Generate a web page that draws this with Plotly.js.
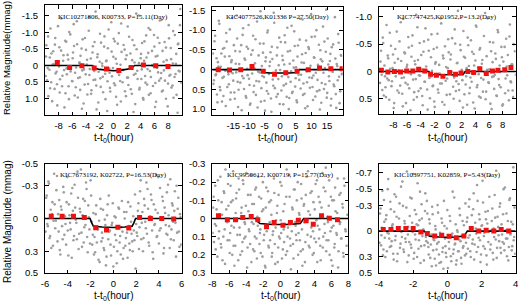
<!DOCTYPE html>
<html>
<head>
<meta charset="utf-8">
<script src="https://cdn.plot.ly/plotly-3.0.1.min.js"></script>
<style>html,body{margin:0;padding:0;background:#fff;}#plot{width:520px;height:303px;}</style>
</head>
<body>
<div id="plot"></div>
<script>
// ---------- panel labels ----------
const panelLabels = [
  "KIC10271806, K00733, P=15.11(Day)",
  "KIC4077526,K01336 P=27.50(Day)",
  "KIC7747425,K01952,P=13.2(Day)",
  "KIC7673192, K02722, P=16.53(Day)",
  "KIC9950612, K00719, P=15.77(Day)",
  "KIC10397751, K02859, P=5.43(Day)"
];
const yTitleTop = "Relative Magnitude(mmag)";
const yTitleBottom = "Relative Magnitude (mmag)";
const xTitle = "t-t<sub>0</sub>(hour)";

// ---------- tick values ----------
const xt1 = [-8,-6,-4,-2,0,2,4,6,8];
const xt2 = [-15,-10,-5,0,5,10,15];
const xt3 = [-8,-6,-4,-2,0,2,4,6,8];
const xt4 = [-6,-4,-2,0,2,4,6];
const xt5 = [-8,-6,-4,-2,0,2,4,6,8];
const xt6 = [-4,-2,0,2,4];
const yt1 = [-1.5,-1.0,-0.5,0,0.5,1.0];
const yl1 = ["-1.5","-1.0","-0.5","0","0.5","1.0"];
const yt2 = [-1.5,-1.0,-0.5,0,0.5,1.0];
const yl2 = ["-1.5","-1.0","-0.5","0","0.5","1.0"];
const yt3 = [-1.0,-0.5,0,0.5];
const yl3 = ["-1.0","-0.5","0","0.5"];
const yt4 = [-0.5,-0.3,0,0.3,0.5];
const yl4 = ["-0.5","-0.3","0","0.3","0.5"];
const yt5 = [-0.3,-0.2,-0.1,0,0.1,0.2,0.3];
const yl5 = ["-0.3","-0.2","-0.1","0","0.1","0.2","0.3"];
const yt6 = [-0.7,-0.5,-0.3,0,0.3,0.5];
const yl6 = ["-0.7","-0.5","-0.3","0","0.3","0.5"];

// ---------- binned points (red) ----------
const b1x = [-8.2,-6.4,-4.6,-2.8,-1.0,0.8,2.6,4.4,6.2,8.0];
const b1y = [-0.09,0.06,0.01,0.08,0.11,0.15,0.06,-0.01,0.01,0.03];
const b2x = [-19.8,-16.2,-12.6,-9.0,-5.4,-1.8,1.8,5.4,9.0,12.6,16.2,19.8];
const b2y = [0.0,0.01,0.0,-0.08,0.04,0.12,0.08,0.04,0.0,-0.04,-0.02,-0.02];
const b3x = [-9.75,-8.8,-7.85,-6.95,-6.05,-5.15,-4.3,-3.4,-2.55,-1.7,-0.75,0.25,1.1,1.9,2.9,3.75,4.65,5.6,6.5,7.3,8.3,9.2];
const b3y = [-0.02,0.01,0.0,0.01,-0.01,-0.01,-0.04,-0.01,0.05,0.07,0.09,0.02,0.05,0.03,0.0,0.02,-0.05,0.04,-0.01,-0.02,-0.03,-0.07];
const b4x = [-5.45,-4.5,-3.5,-2.55,-1.55,-0.6,0.4,1.35,2.3,3.25,4.25,5.3];
const b4y = [-0.02,-0.02,-0.02,-0.01,0.085,0.105,0.08,0.087,-0.01,0.0,0.0,0.005];
const b5x = [-7.27,-6.23,-5.27,-4.42,-3.42,-2.65,-1.62,-0.73,0.31,1.19,2.12,3.04,3.88,4.85,5.77,6.73];
const b5y = [-0.015,0.007,0.007,-0.006,-0.011,0.007,0.046,0.022,0.037,0.022,0.009,0.013,0.031,-0.015,-0.002,0.007];
const b6x = [-3.75,-3.3,-2.87,-2.43,-2.0,-1.55,-1.17,-0.74,-0.33,0.1,0.52,0.97,1.4,1.84,2.27,2.72,3.15,3.59];
const b6y = [-0.02,-0.02,-0.03,-0.03,-0.03,0.01,0.03,0.06,0.05,0.063,0.08,0.06,-0.03,0.0,-0.01,0.0,-0.02,0.0];

// ---------- transit model (black) ----------
const m1x = [-10,-3.1,-2.9,-2.6,-2.0,-1.0,0,1.0,2.0,2.6,2.9,3.1,10];
const m1y = [0,0,0.04,0.09,0.12,0.15,0.16,0.15,0.12,0.09,0.04,0,0];
const m2x = [-22,-6.2,-5.8,-5.3,-3,0,3,5.3,5.8,6.2,20];
const m2y = [0,0,0.04,0.075,0.085,0.09,0.085,0.075,0.04,0,0];
const m3x = [-10,-2.8,-2.65,-2.5,-1,0,1,2.2,2.35,2.5,10];
const m3y = [0,0,0.03,0.055,0.06,0.062,0.06,0.055,0.03,0,0];
const m4x = [-6,-2.05,-1.9,-1.75,-1,0,1,1.65,1.8,1.95,6];
const m4y = [0,0,0.04,0.07,0.078,0.082,0.078,0.07,0.04,0,0];
const m5x = [-8,-2.9,-2.7,-2.4,-1,0,1,2.35,2.55,2.75,8];
const m5y = [0,0,0.015,0.028,0.033,0.035,0.033,0.028,0.015,0,0];
const m6x = [-4,-1.35,-1.2,-1.05,-0.5,0,0.5,0.97,1.07,1.17,4];
const m6y = [0,0,0.03,0.06,0.07,0.075,0.07,0.06,0.03,0,0];

// ---------- raw photometry (gray, estimated sample of the cloud) ----------
const r1x = [-9.9,-9.8,-9.6,-9.5,-9.3,-9.2,-9.1,-8.9,-8.8,-8.6,-8.5,-8.3,-8.2,-8.0,-7.9,-7.8,-7.6,-7.5,-7.3,-7.2,-7.0,-6.9,-6.8,-6.6,-6.5,-6.3,-6.2,-6.0,-5.9,-5.8,-5.6,-5.5,-5.3,-5.2,-5.0,-4.9,-4.8,-4.6,-4.5,-4.3,-4.2,-4.0,-3.9,-3.8,-3.6,-3.5,-3.3,-3.2,-3.0,-2.9,-2.8,-2.6,-2.5,-2.3,-2.2,-2.0,-1.9,-1.8,-1.6,-1.5,-1.3,-1.2,-1.0,-0.9,-0.8,-0.6,-0.5,-0.3,-0.2,0.0,0.1,0.2,0.4,0.5,0.7,0.8,1.0,1.1,1.2,1.4,1.5,1.7,1.8,2.0,2.1,2.2,2.4,2.5,2.7,2.8,3.0,3.1,3.2,3.4,3.5,3.7,3.8,4.0,4.1,4.2,4.4,4.5,4.7,4.8,5.0,5.1,5.2,5.4,5.5,5.7,5.8,6.0,6.1,6.2,6.4,6.5,6.7,6.8,7.0,7.1,7.2,7.4,7.5,7.7,7.8,8.0,8.1,8.2,8.4,8.5,8.7,8.8,9.0,9.1,9.2,9.4,9.5,9.7,9.8];
const r1y = [0.32,-0.61,0.08,0.93,-0.24,-1.12,0.51,-0.02,-0.43,0.71,-0.83,0.19,1.21,-0.12,-0.55,0.42,-1.42,0.63,-0.31,0.14,0.84,-0.72,0.27,-0.18,1.02,-0.94,0.05,0.48,-0.39,-1.25,0.22,0.66,-0.64,0.97,-0.08,0.36,-0.29,1.31,-0.79,0.12,0.58,-0.47,-0.03,0.88,-1.05,0.29,-0.21,0.75,-0.58,0.44,0.17,-1.63,0.61,-0.34,1.12,-0.11,0.39,-0.69,0.02,0.81,-0.88,0.25,-0.15,1.38,-0.52,0.09,0.68,-1.31,0.33,-0.26,0.54,-0.73,0.95,-0.05,0.21,-0.98,0.47,1.09,-0.41,0.13,-0.62,0.78,-0.19,0.37,-1.18,0.59,0.04,-0.36,0.86,-0.77,0.28,-0.09,1.17,-0.49,0.16,-1.51,0.73,-0.22,0.41,-0.68,1.04,-0.14,0.52,-0.91,0.11,-0.38,0.89,-1.08,0.35,-0.01,0.62,-0.57,1.26,-0.27,0.07,-0.84,0.46,-1.36,0.23,0.79,-0.44,0.15,-0.71,1.01,-0.16,0.55,-1.22,0.31,-0.53,0.67,-0.06,0.98,-0.92,0.26,-0.35,1.43,-0.66,0.18,-1.71,0.49];
const s1x = [-9.85,-9.7,-9.55,-9.35,-9.25,-9.05,-8.95,-8.75,-8.55,-8.45,-8.25,-8.1,-7.95,-7.85,-7.65,-7.45,-7.35,-7.15,-7.05,-6.85,-6.7,-6.55,-6.45,-6.25,-6.05,-5.95,-5.75,-5.65,-5.45,-5.35,-5.15,-4.95,-4.85,-4.65,-4.55,-4.35,-4.15,-4.05,-3.85,-3.7,-3.55,-3.45,-3.25,-3.05,-2.95,-2.75,-2.65,-2.45,-2.35,-2.15,-1.95,-1.85,-1.65,-1.55,-1.35,-1.15,-1.05,-0.85,-0.7,-0.55,-0.45,-0.25,-0.05,0.05,0.25,0.35,0.55,0.65,0.85,1.05,1.15,1.35,1.45,1.65,1.85,1.95,2.15,2.3,2.45,2.55,2.75,2.95,3.05,3.25,3.35,3.55,3.75,3.85,4.05,4.15,4.35,4.55,4.65,4.85,4.95,5.15,5.35,5.45,5.65,5.75,5.95,6.15,6.25,6.45,6.55,6.75,6.95,7.05,7.25,7.35,7.55,7.7,7.85,7.95,8.15,8.35,8.45,8.65,8.75,8.95,9.15,9.25,9.45,9.55,9.75,9.95];
const s1y = [-0.27,0.45,-0.88,0.13,0.69,-0.36,1.08,-0.04,-0.63,0.24,0.57,-1.19,0.03,0.82,-0.45,0.31,-0.14,1.27,-0.75,0.09,-0.32,0.63,-1.01,0.18,0.47,-0.22,-0.59,0.91,0.06,-1.34,0.38,-0.09,0.74,-0.51,0.15,1.15,-0.83,0.27,-0.17,0.56,-1.46,0.11,0.86,-0.39,0.02,-0.71,0.43,1.33,-0.25,0.19,-0.96,0.65,-0.06,0.34,-0.57,1.02,-0.13,0.48,-1.09,0.22,0.79,-0.42,0.08,-0.81,0.6,-0.2,1.19,-0.66,0.29,-0.02,-1.27,0.51,0.14,-0.48,0.93,-0.31,0.37,-0.87,0.05,0.72,-0.16,1.41,-0.61,0.25,-1.57,0.41,-0.07,0.68,-0.35,0.12,0.99,-0.73,0.32,-0.24,0.58,-1.13,0.17,0.84,-0.44,0.01,-0.92,0.53,1.1,-0.29,0.21,-0.68,0.39,-1.38,0.76,-0.11,0.46,-0.54,0.07,1.24,-0.82,0.28,-0.19,0.61,-1.04,0.35,-0.05,0.89,-0.64,0.16,-1.22,0.52,0.04];
const r2x = [-21.5,-21.2,-20.8,-20.5,-20.2,-19.9,-19.6,-19.3,-19.0,-18.6,-18.3,-18.0,-17.7,-17.4,-17.1,-16.7,-16.4,-16.1,-15.8,-15.5,-15.2,-14.8,-14.5,-14.2,-13.9,-13.6,-13.3,-12.9,-12.6,-12.3,-12.0,-11.7,-11.4,-11.0,-10.7,-10.4,-10.1,-9.8,-9.5,-9.1,-8.8,-8.5,-8.2,-7.9,-7.6,-7.2,-6.9,-6.6,-6.3,-6.0,-5.7,-5.3,-5.0,-4.7,-4.4,-4.1,-3.8,-3.4,-3.1,-2.8,-2.5,-2.2,-1.9,-1.5,-1.2,-0.9,-0.6,-0.3,0.0,0.4,0.7,1.0,1.3,1.6,1.9,2.3,2.6,2.9,3.2,3.5,3.8,4.2,4.5,4.8,5.1,5.4,5.7,6.1,6.4,6.7,7.0,7.3,7.6,8.0,8.3,8.6,8.9,9.2,9.5,9.9,10.2,10.5,10.8,11.1,11.4,11.8,12.1,12.4,12.7,13.0,13.3,13.7,14.0,14.3,14.6,14.9,15.2,15.6,15.9,16.2,16.5,16.8,17.1,17.5,17.8,18.1,18.4,18.7,19.0,19.4,19.7];
const r2y = [-0.41,0.27,-0.86,0.12,0.63,-0.19,-1.24,0.44,-0.07,0.81,-0.53,0.18,-0.33,0.92,-0.71,0.05,0.37,-1.02,0.58,-0.24,0.09,-0.62,0.74,-0.15,-1.37,0.31,0.51,-0.46,0.02,1.03,-0.88,0.22,-0.28,0.67,-0.58,0.14,-1.13,0.39,0.86,-0.11,-0.49,0.57,-0.03,-0.77,0.29,0.96,-0.36,0.07,-1.48,0.47,0.16,-0.66,0.79,-0.21,0.33,-0.94,0.61,-0.09,-0.44,1.07,-0.27,0.41,-1.19,0.11,0.69,-0.56,0.24,-0.81,0.01,0.53,-0.35,0.88,-0.13,-0.69,0.36,-1.06,0.19,0.72,-0.48,0.04,0.59,-0.23,-0.97,0.43,-0.06,0.83,-0.61,0.26,-1.29,0.13,-0.39,0.64,-0.17,0.98,-0.74,0.32,-0.01,-0.52,0.46,-1.41,0.21,0.77,-0.31,-0.84,0.08,0.55,-0.12,-0.63,1.01,-0.26,0.34,-1.09,0.49,-0.04,-0.45,0.71,-0.79,0.17,-0.22,0.91,-0.57,0.06,0.38,-1.33,0.62,-0.14,0.27,-0.68,0.85,-0.37,0.12,-0.92,0.45,-0.18,0.66];
const s2x = [-21.35,-21.0,-20.65,-20.35,-20.05,-19.75,-19.45,-19.15,-18.8,-18.45,-18.15,-17.85,-17.55,-17.25,-16.9,-16.55,-16.25,-15.95,-15.65,-15.35,-15.0,-14.65,-14.35,-14.05,-13.75,-13.45,-13.1,-12.75,-12.45,-12.15,-11.85,-11.55,-11.2,-10.85,-10.55,-10.25,-9.95,-9.65,-9.3,-8.95,-8.65,-8.35,-8.05,-7.75,-7.4,-7.05,-6.75,-6.45,-6.15,-5.85,-5.5,-5.15,-4.85,-4.55,-4.25,-3.95,-3.6,-3.25,-2.95,-2.65,-2.35,-2.05,-1.7,-1.35,-1.05,-0.75,-0.45,-0.15,0.2,0.55,0.85,1.15,1.45,1.75,2.1,2.45,2.75,3.05,3.35,3.65,4.0,4.35,4.65,4.95,5.25,5.55,5.9,6.25,6.55,6.85,7.15,7.45,7.8,8.15,8.45,8.75,9.05,9.35,9.7,10.05,10.35,10.65,10.95,11.25,11.6,11.95,12.25,12.55,12.85,13.15,13.5,13.85,14.15,14.45,14.75,15.05,15.4,15.75,16.05,16.35,16.65,16.95,17.3,17.65,17.95,18.25,18.55,18.85,19.2,19.55,19.85];
const s2y = [0.36,-0.72,0.14,-0.29,0.83,-0.08,-1.16,0.52,-0.41,0.21,0.67,-0.55,0.03,-0.93,0.44,0.12,-0.34,0.76,-0.19,-1.31,0.28,0.58,-0.47,0.07,-0.79,0.95,-0.14,0.33,-0.62,0.16,-1.05,0.49,-0.25,0.71,-0.02,-0.53,0.23,0.89,-0.38,0.1,-0.86,0.41,-0.16,0.64,-1.22,0.05,0.3,-0.66,0.81,-0.09,-0.43,0.19,1.04,-0.31,0.54,-0.99,0.11,-0.2,0.73,-0.58,0.25,-1.44,0.47,0.02,-0.36,0.62,-0.11,0.87,-0.7,0.17,-0.24,0.4,-0.87,0.09,0.69,-0.46,1.0,-0.15,0.31,-1.11,0.56,-0.05,-0.6,0.22,0.78,-0.33,0.13,-0.76,0.48,-0.18,-1.27,0.35,0.61,-0.42,0.04,0.93,-0.57,0.2,-0.1,-0.83,0.44,0.15,-0.3,0.68,-1.0,0.26,-0.07,0.52,-0.49,0.84,-0.21,0.08,-0.71,0.37,-1.52,0.59,-0.13,0.29,-0.4,0.74,0.01,-0.64,0.42,-0.28,0.97,-0.09,-0.9,0.18,0.55,-0.35,0.1];
const r3x = [-9.95,-9.8,-9.7,-9.55,-9.4,-9.3,-9.15,-9.0,-8.9,-8.75,-8.6,-8.45,-8.35,-8.2,-8.05,-7.95,-7.8,-7.65,-7.5,-7.4,-7.25,-7.1,-7.0,-6.85,-6.7,-6.55,-6.45,-6.3,-6.15,-6.05,-5.9,-5.75,-5.6,-5.5,-5.35,-5.2,-5.1,-4.95,-4.8,-4.65,-4.55,-4.4,-4.25,-4.15,-4.0,-3.85,-3.7,-3.6,-3.45,-3.3,-3.2,-3.05,-2.9,-2.75,-2.65,-2.5,-2.35,-2.25,-2.1,-1.95,-1.8,-1.7,-1.55,-1.4,-1.3,-1.15,-1.0,-0.85,-0.75,-0.6,-0.45,-0.35,-0.2,-0.05,0.1,0.2,0.35,0.5,0.6,0.75,0.9,1.05,1.15,1.3,1.45,1.55,1.7,1.85,2.0,2.1,2.25,2.4,2.5,2.65,2.8,2.95,3.05,3.2,3.35,3.45,3.6,3.75,3.9,4.0,4.15,4.3,4.4,4.55,4.7,4.85,4.95,5.1,5.25,5.35,5.5,5.65,5.8,5.9,6.05,6.2,6.3,6.45,6.6,6.75,6.85,7.0,7.15,7.25,7.4,7.55,7.7,7.8,7.95,8.1,8.2,8.35,8.5,8.65,8.75,8.9,9.05,9.15,9.3,9.45,9.6,9.7,9.85];
const r3y = [0.21,-0.38,0.06,-0.62,0.44,-0.11,0.29,-0.85,0.13,-0.24,0.52,-0.05,-0.47,0.18,-0.31,0.67,-0.16,0.09,-0.73,0.35,-0.02,-0.55,0.26,-0.19,0.41,-0.96,0.11,-0.33,0.58,-0.08,0.24,-0.44,0.03,0.71,-0.27,-0.66,0.15,0.38,-0.13,-1.04,0.47,-0.21,0.07,-0.52,0.31,-0.04,0.62,-0.36,0.19,-0.79,-0.09,0.33,-0.58,0.12,0.49,-0.26,-0.01,0.27,-0.41,0.65,-0.17,0.05,-0.69,0.39,-0.12,0.22,-0.88,0.56,-0.29,0.08,-0.46,0.17,0.43,-0.06,-0.35,0.74,-0.22,0.01,-0.61,0.28,0.11,-0.51,0.36,-0.15,-1.11,0.23,0.54,-0.39,-0.03,0.16,-0.74,0.42,-0.25,0.09,0.61,-0.48,-0.1,0.3,-0.57,0.19,0.04,-0.32,0.68,-0.2,-0.82,0.25,-0.07,0.46,-0.43,0.12,-0.14,0.37,-0.65,0.02,0.51,-0.28,-0.97,0.2,-0.04,0.59,-0.37,0.1,-0.53,0.32,0.06,-0.23,0.45,-0.76,0.14,-0.11,0.29,-0.45,0.63,-0.18,-0.04,0.4,-0.6,0.07,-0.3,0.53,-0.86,0.18,-0.13,0.35,-0.5];
const s3x = [-9.88,-9.62,-9.48,-9.22,-9.08,-8.82,-8.68,-8.52,-8.28,-8.12,-7.88,-7.72,-7.58,-7.32,-7.18,-6.92,-6.78,-6.62,-6.38,-6.22,-5.98,-5.82,-5.68,-5.42,-5.28,-5.02,-4.88,-4.72,-4.48,-4.32,-4.08,-3.92,-3.78,-3.52,-3.38,-3.12,-2.98,-2.82,-2.58,-2.42,-2.18,-2.02,-1.88,-1.62,-1.48,-1.22,-1.08,-0.92,-0.68,-0.52,-0.28,-0.12,0.02,0.28,0.42,0.68,0.82,0.98,1.22,1.38,1.62,1.78,1.92,2.18,2.32,2.58,2.72,2.88,3.12,3.28,3.52,3.68,3.82,4.08,4.22,4.48,4.62,4.78,5.02,5.18,5.42,5.58,5.72,5.98,6.12,6.38,6.52,6.68,6.92,7.08,7.32,7.48,7.62,7.88,8.02,8.28,8.42,8.58,8.82,8.98,9.22,9.38,9.52,9.78,9.92];
const s3y = [-0.18,0.34,-0.52,0.09,0.47,-0.29,0.16,-0.71,0.27,-0.06,0.58,-0.41,0.02,-0.23,0.39,-0.9,0.12,0.64,-0.35,0.21,-0.12,-0.63,0.31,0.05,-0.47,0.52,-0.19,0.14,-0.81,0.36,0.08,-0.3,0.45,-0.55,0.19,-0.02,0.7,-0.38,0.1,-0.68,0.26,0.55,-0.14,-0.44,0.33,0.04,-0.97,0.22,-0.24,0.61,-0.08,0.13,-0.59,0.42,-0.31,0.07,0.5,-0.77,0.18,-0.16,0.34,-0.49,0.03,0.66,-0.27,0.24,-0.06,-0.62,0.4,0.11,-0.36,0.57,-0.11,-0.84,0.29,0.05,-0.4,0.48,-0.21,0.15,-1.07,0.37,-0.03,0.21,-0.54,0.69,-0.17,0.09,-0.33,0.44,-0.72,0.25,0.01,-0.26,0.6,-0.45,0.13,-0.09,0.35,-0.64,0.2,-0.13,0.47,-0.37,0.06];
const r4x = [-5.95,-5.85,-5.8,-5.7,-5.6,-5.5,-5.45,-5.35,-5.25,-5.2,-5.1,-5.0,-4.9,-4.85,-4.75,-4.65,-4.6,-4.5,-4.4,-4.3,-4.25,-4.15,-4.05,-4.0,-3.9,-3.8,-3.7,-3.65,-3.55,-3.45,-3.4,-3.3,-3.2,-3.1,-3.05,-2.95,-2.85,-2.8,-2.7,-2.6,-2.5,-2.45,-2.35,-2.25,-2.2,-2.1,-2.0,-1.9,-1.85,-1.75,-1.65,-1.6,-1.5,-1.4,-1.3,-1.25,-1.15,-1.05,-1.0,-0.9,-0.8,-0.7,-0.65,-0.55,-0.45,-0.4,-0.3,-0.2,-0.1,-0.05,0.05,0.15,0.2,0.3,0.4,0.5,0.55,0.65,0.75,0.8,0.9,1.0,1.1,1.15,1.25,1.35,1.4,1.5,1.6,1.7,1.75,1.85,1.95,2.0,2.1,2.2,2.3,2.35,2.45,2.55,2.6,2.7,2.8,2.9,2.95,3.05,3.15,3.2,3.3,3.4,3.5,3.55,3.65,3.75,3.8,3.9,4.0,4.1,4.15,4.25,4.35,4.4,4.5,4.6,4.7,4.75,4.85,4.95,5.0,5.1,5.2,5.3,5.35,5.45,5.55,5.6,5.7,5.8,5.9];
const r4y = [0.12,-0.21,0.05,-0.34,0.18,-0.08,0.27,-0.15,0.02,-0.41,0.09,-0.26,0.21,-0.04,-0.17,0.33,-0.11,0.07,-0.29,0.15,-0.02,0.24,-0.38,0.11,-0.13,0.04,-0.23,0.36,-0.07,0.16,-0.31,0.01,0.19,-0.19,0.28,-0.09,-0.45,0.13,-0.03,0.22,-0.16,0.06,-0.27,0.31,-0.12,0.1,-0.35,0.03,0.24,-0.05,0.17,0.31,-0.12,0.09,0.38,0.02,-0.18,0.21,0.13,-0.08,0.29,0.06,0.43,-0.03,0.19,-0.21,0.11,0.34,0.04,-0.14,0.26,0.15,-0.01,0.41,0.08,-0.09,0.22,0.33,-0.16,0.12,0.27,0.0,0.18,-0.06,0.36,0.07,0.23,-0.11,0.14,0.3,-0.02,0.2,0.46,0.05,0.16,-0.14,0.08,-0.25,0.19,-0.06,0.3,-0.18,0.03,-0.33,0.14,-0.09,0.25,-0.02,-0.22,0.11,0.37,-0.13,0.05,-0.4,0.17,-0.05,0.23,-0.28,0.09,0.01,-0.16,0.32,-0.1,0.06,-0.24,0.15,-0.03,0.27,-0.36,0.1,-0.12,0.2,-0.07,0.04,-0.3,0.13,-0.19,0.26,-0.01,0.08,-0.44];
const s4x = [-5.9,-5.75,-5.65,-5.55,-5.4,-5.3,-5.15,-5.05,-4.95,-4.8,-4.7,-4.55,-4.45,-4.35,-4.2,-4.1,-3.95,-3.85,-3.75,-3.6,-3.5,-3.35,-3.25,-3.15,-3.0,-2.9,-2.75,-2.65,-2.55,-2.4,-2.3,-2.15,-2.05,-1.95,-1.8,-1.7,-1.55,-1.45,-1.35,-1.2,-1.1,-0.95,-0.85,-0.75,-0.6,-0.5,-0.35,-0.25,-0.15,0.0,0.1,0.25,0.35,0.45,0.6,0.7,0.85,0.95,1.05,1.2,1.3,1.45,1.55,1.65,1.8,1.9,2.05,2.15,2.25,2.4,2.5,2.65,2.75,2.85,3.0,3.1,3.25,3.35,3.45,3.6,3.7,3.85,3.95,4.05,4.2,4.3,4.45,4.55,4.65,4.8,4.9,5.05,5.15,5.25,5.4,5.5,5.65,5.75,5.85,5.95];
const s4y = [-0.19,0.07,-0.32,0.16,-0.04,0.25,-0.13,0.02,-0.39,0.12,0.29,-0.08,0.19,-0.24,0.05,-0.15,0.34,-0.03,0.1,-0.28,0.2,-0.1,0.04,-0.43,0.14,-0.06,0.26,-0.18,0.08,-0.33,0.17,-0.01,0.23,-0.21,0.15,0.33,-0.04,0.22,0.1,0.4,-0.09,0.18,0.27,0.01,0.35,-0.13,0.12,0.24,0.06,0.44,-0.02,0.2,0.3,-0.1,0.16,0.08,0.37,-0.06,0.25,0.13,-0.15,0.29,0.03,0.21,0.11,-0.22,0.13,-0.07,0.28,-0.35,0.04,0.18,-0.12,0.09,-0.27,0.22,-0.02,-0.17,0.31,0.06,-0.08,0.16,-0.38,0.11,0.01,-0.2,0.27,-0.05,0.14,-0.31,0.07,0.19,-0.14,0.03,-0.25,0.35,-0.09,0.12,-0.04,0.24];
const r5x = [-7.95,-7.85,-7.7,-7.6,-7.5,-7.35,-7.25,-7.15,-7.0,-6.9,-6.8,-6.65,-6.55,-6.45,-6.3,-6.2,-6.1,-5.95,-5.85,-5.75,-5.6,-5.5,-5.4,-5.25,-5.15,-5.05,-4.9,-4.8,-4.7,-4.55,-4.45,-4.35,-4.2,-4.1,-4.0,-3.85,-3.75,-3.65,-3.5,-3.4,-3.3,-3.15,-3.05,-2.95,-2.8,-2.7,-2.6,-2.45,-2.35,-2.25,-2.1,-2.0,-1.9,-1.75,-1.65,-1.55,-1.4,-1.3,-1.2,-1.05,-0.95,-0.85,-0.7,-0.6,-0.5,-0.35,-0.25,-0.15,0.0,0.1,0.2,0.35,0.45,0.55,0.7,0.8,0.9,1.05,1.15,1.25,1.4,1.5,1.6,1.75,1.85,1.95,2.1,2.2,2.3,2.45,2.55,2.65,2.8,2.9,3.0,3.15,3.25,3.35,3.5,3.6,3.7,3.85,3.95,4.05,4.2,4.3,4.4,4.55,4.65,4.75,4.9,5.0,5.1,5.25,5.35,5.45,5.6,5.7,5.8,5.95,6.05,6.15,6.3,6.4,6.5,6.65,6.75,6.85,7.0,7.1,7.2,7.35,7.45,7.55,7.7,7.8,7.9];
const r5y = [0.08,-0.12,0.03,0.17,-0.05,-0.21,0.11,-0.02,0.14,-0.09,0.23,-0.15,0.06,-0.27,0.01,0.12,-0.07,0.19,-0.18,0.04,-0.1,0.15,0.26,-0.03,-0.14,0.09,-0.22,0.05,0.2,-0.06,0.13,-0.19,0.02,0.1,-0.25,0.16,-0.04,0.07,-0.13,0.24,-0.08,0.03,0.18,-0.16,0.11,-0.01,-0.23,0.14,0.06,-0.11,0.21,-0.05,0.09,0.27,-0.17,0.04,0.15,-0.09,0.12,-0.02,0.19,0.07,-0.14,0.25,0.01,-0.07,0.16,0.1,-0.2,0.08,0.22,-0.04,0.13,0.03,-0.12,0.18,0.05,-0.24,0.11,0.28,-0.06,0.14,-0.16,0.02,0.09,-0.1,0.2,-0.03,0.12,-0.19,0.06,0.17,-0.08,0.24,-0.13,0.01,-0.26,0.15,-0.02,0.1,-0.15,0.07,0.19,-0.05,0.13,-0.21,0.04,0.11,-0.09,0.23,-0.01,0.16,-0.17,0.08,-0.28,0.12,0.02,-0.07,0.2,-0.12,0.05,0.26,-0.1,0.14,-0.04,0.09,-0.22,0.18,0.03,-0.14,0.11,-0.06,0.21,-0.18,0.07,0.15,-0.02,-0.25,0.1];
const s5x = [-7.9,-7.8,-7.65,-7.55,-7.4,-7.3,-7.2,-7.05,-6.95,-6.85,-6.7,-6.6,-6.5,-6.35,-6.25,-6.15,-6.0,-5.9,-5.8,-5.65,-5.55,-5.45,-5.3,-5.2,-5.1,-4.95,-4.85,-4.75,-4.6,-4.5,-4.4,-4.25,-4.15,-4.05,-3.9,-3.8,-3.7,-3.55,-3.45,-3.35,-3.2,-3.1,-3.0,-2.85,-2.75,-2.65,-2.5,-2.4,-2.3,-2.15,-2.05,-1.95,-1.8,-1.7,-1.6,-1.45,-1.35,-1.25,-1.1,-1.0,-0.9,-0.75,-0.65,-0.55,-0.4,-0.3,-0.2,-0.05,0.05,0.15,0.3,0.4,0.5,0.65,0.75,0.85,1.0,1.1,1.2,1.35,1.45,1.55,1.7,1.8,1.9,2.05,2.15,2.25,2.4,2.5,2.6,2.75,2.85,2.95,3.1,3.2,3.3,3.45,3.55,3.65,3.8,3.9,4.0,4.15,4.25,4.35,4.5,4.6,4.7,4.85,4.95,5.05,5.2,5.3,5.4,5.55,5.65,5.75,5.9,6.0,6.1,6.25,6.35,6.45,6.6,6.7,6.8,6.95,7.05,7.15,7.3,7.4,7.5,7.65,7.75,7.85,7.95];
const s5y = [-0.06,0.13,-0.18,0.04,0.21,-0.1,0.07,-0.23,0.16,-0.02,0.1,-0.14,0.25,-0.05,0.02,-0.19,0.12,0.08,-0.09,0.2,-0.26,0.05,0.15,-0.11,0.01,0.23,-0.16,0.09,-0.03,0.18,-0.21,0.11,0.03,-0.07,0.27,-0.13,0.06,0.14,-0.24,0.02,0.17,-0.08,0.1,-0.17,0.22,0.04,-0.12,0.08,0.19,-0.04,-0.2,0.12,0.26,-0.06,0.07,-0.15,0.16,0.02,-0.1,0.21,0.09,-0.22,0.14,0.05,-0.03,0.24,-0.13,0.11,0.01,-0.18,0.17,0.06,-0.08,0.2,-0.27,0.1,0.03,-0.12,0.15,0.07,-0.05,0.22,-0.16,0.04,0.12,-0.2,0.08,-0.02,0.18,-0.11,0.26,-0.07,0.02,0.13,-0.23,0.09,-0.04,0.16,-0.14,0.05,0.2,-0.09,0.11,-0.19,0.01,0.24,-0.12,0.06,0.15,-0.06,-0.25,0.1,0.03,-0.15,0.18,-0.01,0.12,-0.21,0.07,0.23,-0.1,0.04,0.16,-0.17,0.08,-0.03,0.27,-0.13,0.02,0.11,-0.08,0.19,-0.22,0.06];
const r6x = [-3.97,-3.91,-3.86,-3.8,-3.74,-3.69,-3.63,-3.57,-3.51,-3.46,-3.4,-3.34,-3.29,-3.23,-3.17,-3.11,-3.06,-3.0,-2.94,-2.89,-2.83,-2.77,-2.71,-2.66,-2.6,-2.54,-2.49,-2.43,-2.37,-2.31,-2.26,-2.2,-2.14,-2.09,-2.03,-1.97,-1.91,-1.86,-1.8,-1.74,-1.69,-1.63,-1.57,-1.51,-1.46,-1.4,-1.34,-1.29,-1.23,-1.17,-1.11,-1.06,-1.0,-0.94,-0.89,-0.83,-0.77,-0.71,-0.66,-0.6,-0.54,-0.49,-0.43,-0.37,-0.31,-0.26,-0.2,-0.14,-0.09,-0.03,0.03,0.09,0.14,0.2,0.26,0.31,0.37,0.43,0.49,0.54,0.6,0.66,0.71,0.77,0.83,0.89,0.94,1.0,1.06,1.11,1.17,1.23,1.29,1.34,1.4,1.46,1.51,1.57,1.63,1.69,1.74,1.8,1.86,1.91,1.97,2.03,2.09,2.14,2.2,2.26,2.31,2.37,2.43,2.49,2.54,2.6,2.66,2.71,2.77,2.83,2.89,2.94,3.0,3.06,3.11,3.17,3.23,3.29,3.34,3.4,3.46,3.51,3.57,3.63,3.69,3.74,3.8,3.86,3.91,3.97];
const r6y = [0.14,-0.27,0.05,-0.48,0.22,-0.11,0.31,-0.19,0.02,-0.62,0.09,-0.35,0.18,-0.06,0.27,-0.23,0.11,-0.41,0.36,-0.01,-0.15,0.2,-0.53,0.07,-0.3,0.25,-0.09,0.13,-0.71,0.04,0.29,-0.18,0.16,-0.39,0.01,0.33,-0.25,0.1,-0.08,-0.57,0.21,-0.13,0.38,-0.32,0.06,-0.02,0.17,-0.45,0.12,-0.21,0.19,-0.14,0.32,0.04,-0.29,0.23,0.11,-0.06,0.41,0.15,-0.22,0.28,0.02,0.37,-0.1,0.2,-0.36,0.09,0.26,-0.03,0.44,0.13,-0.18,0.3,0.06,-0.47,0.22,0.16,-0.08,0.35,0.01,0.24,-0.27,0.12,0.39,-0.12,0.18,0.07,-0.33,0.27,-0.16,0.08,-0.38,0.24,-0.04,0.15,-0.26,0.34,-0.1,0.03,-0.55,0.19,-0.2,0.11,0.28,-0.07,-0.34,0.06,0.21,-0.14,0.4,-0.24,0.01,-0.66,0.16,-0.12,0.26,-0.03,-0.43,0.1,0.32,-0.17,0.05,-0.29,0.2,-0.08,0.13,-0.5,0.23,-0.01,-0.21,0.09,0.35,-0.37,0.04,-0.11,0.18,-0.76,0.07,0.27];
const s6x = [-3.94,-3.88,-3.83,-3.77,-3.71,-3.66,-3.6,-3.54,-3.49,-3.43,-3.37,-3.31,-3.26,-3.2,-3.14,-3.09,-3.03,-2.97,-2.91,-2.86,-2.8,-2.74,-2.69,-2.63,-2.57,-2.51,-2.46,-2.4,-2.34,-2.29,-2.23,-2.17,-2.11,-2.06,-2.0,-1.94,-1.89,-1.83,-1.77,-1.71,-1.66,-1.6,-1.54,-1.49,-1.43,-1.37,-1.31,-1.26,-1.2,-1.14,-1.09,-1.03,-0.97,-0.91,-0.86,-0.8,-0.74,-0.69,-0.63,-0.57,-0.51,-0.46,-0.4,-0.34,-0.29,-0.23,-0.17,-0.11,-0.06,0.0,0.06,0.11,0.17,0.23,0.29,0.34,0.4,0.46,0.51,0.57,0.63,0.69,0.74,0.8,0.86,0.91,0.97,1.03,1.09,1.14,1.2,1.26,1.31,1.37,1.43,1.49,1.54,1.6,1.66,1.71,1.77,1.83,1.89,1.94,2.0,2.06,2.11,2.17,2.23,2.29,2.34,2.4,2.46,2.51,2.57,2.63,2.69,2.74,2.8,2.86,2.91,2.97,3.03,3.09,3.14,3.2,3.26,3.31,3.37,3.43,3.49,3.54,3.6,3.66,3.71,3.77,3.83,3.88,3.94];
const s6y = [-0.21,0.17,-0.04,0.29,-0.37,0.08,-0.14,0.24,-0.5,0.03,0.19,-0.26,0.12,-0.08,0.34,-0.44,0.06,-0.17,0.27,-0.02,-0.33,0.15,0.01,-0.59,0.22,-0.12,0.09,-0.28,0.37,-0.05,0.13,-0.4,0.2,-0.1,-0.68,0.26,0.04,-0.2,0.31,-0.07,0.11,-0.47,0.18,-0.15,0.02,0.35,-0.24,0.07,-0.36,0.14,0.28,-0.09,0.16,0.42,-0.2,0.1,0.33,-0.02,0.22,-0.31,0.13,0.38,0.05,-0.15,0.25,0.45,-0.06,0.18,0.31,-0.25,0.08,0.21,-0.12,0.36,0.03,0.27,-0.4,0.15,0.4,-0.01,0.24,0.1,-0.19,0.32,0.06,0.2,-0.07,0.29,0.14,-0.11,0.21,-0.29,0.05,0.31,-0.19,0.1,-0.45,0.16,-0.03,0.25,-0.36,0.08,-0.14,0.37,-0.06,-0.6,0.18,0.02,-0.23,0.29,-0.09,0.13,-0.41,0.22,-0.01,-0.27,0.34,0.07,-0.16,-0.72,0.2,-0.05,0.12,-0.33,0.26,0.04,-0.2,0.15,-0.52,0.09,0.3,-0.12,0.19,-0.39,0.03,0.23,-0.08,0.11,-0.28];

// ---------- layout geometry (pixels in a 520x303 canvas) ----------
const W = 520, H = 303;
const panels = [
  {rx:[r1x,s1x], ry:[r1y,s1y], mx:m1x, my:m1y, bx:b1x, by:b1y, xt:xt1, yt:yt1, yl:yl1, xr:[-10,10],    yr:[1.5,-1.83],  px:[45,181.7],   py:[5,115]},
  {rx:[r2x,s2x], ry:[r2y,s2y], mx:m2x, my:m2y, bx:b2x, by:b2y, xt:xt2, yt:yt2, yl:yl2, xr:[-21.7,20],  yr:[1.15,-1.6],  px:[212.3,342.7],py:[6.5,115]},
  {rx:[r3x,s3x], ry:[r3y,s3y], mx:m3x, my:m3y, bx:b3x, by:b3y, xt:xt3, yt:yt3, yl:yl3, xr:[-10.1,9.9], yr:[0.78,-1.19], px:[379,515.7],  py:[6.5,114]},
  {rx:[r4x,s4x], ry:[r4y,s4y], mx:m4x, my:m4y, bx:b4x, by:b4y, xt:xt4, yt:yt4, yl:yl4, xr:[-6,6],      yr:[0.5,-0.5],   px:[45,181.7],   py:[164,273]},
  {rx:[r5x,s5x], ry:[r5y,s5y], mx:m5x, my:m5y, bx:b5x, by:b5y, xt:xt5, yt:yt5, yl:yl5, xr:[-8,8],      yr:[0.3,-0.3],   px:[212.3,348.3],py:[164,273]},
  {rx:[r6x,s6x], ry:[r6y,s6y], mx:m6x, my:m6y, bx:b6x, by:b6y, xt:xt6, yt:yt6, yl:yl6, xr:[-4,4],      yr:[0.5,-0.8],   px:[379,515.7],  py:[164,273]}
];
const labelY = [16.5,17,17,175,175,174.5];

const tickFont = {family:"Liberation Sans, Arial, sans-serif", size:9.5, color:"#000"};
const traces = [];
const layout = {
  width: W, height: H, autosize:false,
  margin:{l:0,r:0,t:0,b:0,pad:0},
  paper_bgcolor:"#fff", plot_bgcolor:"#fff",
  showlegend:false,
  annotations:[]
};

panels.forEach((p,i)=>{
  const n = i===0 ? "" : String(i+1);
  const xa = "x"+n, ya = "y"+n;
  p.rx.forEach((xs,k)=>{
    traces.push({type:"scatter", mode:"markers", x:xs, y:p.ry[k], xaxis:xa, yaxis:ya,
      marker:{size:2.6, color:"#9e9e9e"}, hoverinfo:"skip"});
  });
  traces.push({type:"scatter", mode:"lines", x:p.mx, y:p.my, xaxis:xa, yaxis:ya,
    line:{color:"#000", width:1.6}, hoverinfo:"skip"});
  traces.push({type:"scatter", mode:"markers", x:p.bx, y:p.by, xaxis:xa, yaxis:ya,
    marker:{size:5, symbol:"square", color:"#ee1111"}, hoverinfo:"skip"});
  const common = {showline:true, linecolor:"#000", linewidth:1, mirror:"ticks",
    ticks:"inside", ticklen:3.5, tickwidth:1, tickcolor:"#000",
    showgrid:false, zeroline:false, tickfont:tickFont, fixedrange:true};
  layout["xaxis"+n] = Object.assign({}, common, {
    domain:[p.px[0]/W, p.px[1]/W], range:p.xr, anchor:ya, tickangle:0,
    tickmode:"array", tickvals:p.xt, ticktext:p.xt.map(String), ticklabelstandoff:2});
  layout["yaxis"+n] = Object.assign({}, common, {
    domain:[1-p.py[1]/H, 1-p.py[0]/H], range:p.yr, anchor:xa,
    tickmode:"array", tickvals:p.yt, ticktext:p.yl, ticklabelstandoff:4});
  layout.annotations.push({text:panelLabels[i], xref:"paper", yref:"paper",
    x:(p.px[0]+p.px[1])/2/W, y:1-labelY[i]/H, xanchor:"center", yanchor:"middle",
    showarrow:false, font:{family:"Liberation Serif, Times New Roman, serif", size:7, color:"#000"}});
  layout.annotations.push({text:xTitle, xref:"paper", yref:"paper",
    x:(p.px[0]+p.px[1])/2/W, y:1-(i<3?138:296)/H, xanchor:"center", yanchor:"middle",
    showarrow:false, font:{family:"Liberation Sans, Arial, sans-serif", size:10, color:"#000"}});
});
layout.annotations.push({text:yTitleTop, xref:"paper", yref:"paper", x:7/W, y:1-58/H,
  xanchor:"center", yanchor:"middle", textangle:-90, showarrow:false,
  font:{family:"Liberation Sans, Arial, sans-serif", size:9.5, color:"#000"}});
layout.annotations.push({text:yTitleBottom, xref:"paper", yref:"paper", x:7/W, y:1-222/H,
  xanchor:"center", yanchor:"middle", textangle:-90, showarrow:false,
  font:{family:"Liberation Sans, Arial, sans-serif", size:10, color:"#000"}});

Plotly.newPlot("plot", traces, layout, {staticPlot:true, displayModeBar:false});
</script>
</body>
</html>
